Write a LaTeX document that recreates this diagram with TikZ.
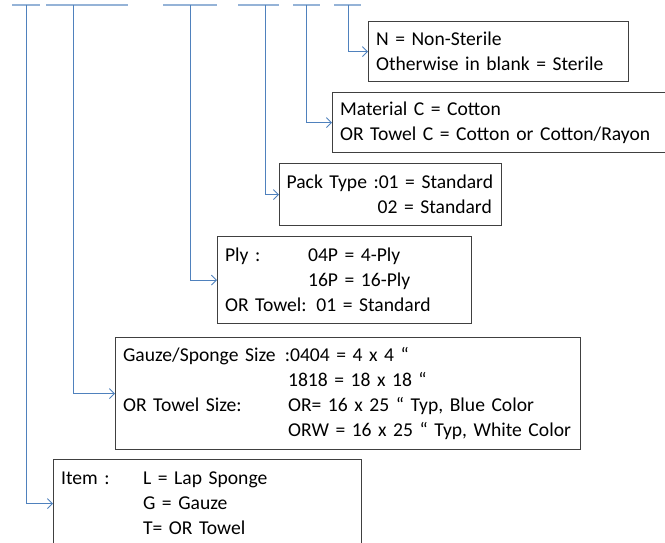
\documentclass[tikz,border=0pt]{standalone}
\usepackage{fontspec}
\setmainfont{Carlito}
\usetikzlibrary{arrows.meta}
\definecolor{leadblue}{HTML}{4F81BD}
\definecolor{barblue}{HTML}{95B3D7}
\definecolor{boxgray}{HTML}{404040}
\tikzset{
  code box/.style={
    rectangle,
    draw=boxgray,
    line width=1.2pt,
    anchor=north west,
    inner xsep=7.5pt,
    inner ysep=0pt,
    align=left,
    font=\fontsize{19.6}{25}\selectfont,
  },
  code bar/.style={draw=barblue, line width=1.6pt},
  code lead/.style={draw=leadblue, line width=0.9pt, -{Straight Barb[length=5pt,width=10pt]}},
}
\begin{document}
\begin{tikzpicture}[x=1pt,y=-1pt]
  \useasboundingbox (0,0) rectangle (665,543);
  \clip (0,0) rectangle (665,543);

  % segments of the code
  \coordinate (b1a) at (12,5);  \coordinate (b1b) at (40,5);  \coordinate (t1) at (26,5);
  \coordinate (b2a) at (46,5);  \coordinate (b2b) at (128,5); \coordinate (t2) at (73,5);
  \coordinate (b3a) at (163,5); \coordinate (b3b) at (217,5); \coordinate (t3) at (190,5);
  \coordinate (b4a) at (238,5); \coordinate (b4b) at (279,5); \coordinate (t4) at (265,5);
  \coordinate (b5a) at (293,5); \coordinate (b5b) at (320,5); \coordinate (t5) at (306,5);
  \coordinate (b6a) at (334,5); \coordinate (b6b) at (361,5); \coordinate (t6) at (348,5);

  \draw[code bar] (b1a) -- (b1b);
  \draw[code bar] (b2a) -- (b2b);
  \draw[code bar] (b3a) -- (b3b);
  \draw[code bar] (b4a) -- (b4b);
  \draw[code bar] (b5a) -- (b5b);
  \draw[code bar] (b6a) -- (b6b);

  % explanation boxes
  \node[code box, minimum width=260pt, minimum height=60pt, text width=245pt] (sterile) at (368,21)
    {N = Non-Sterile\\Otherwise in blank = Sterile};
  \node[code box, minimum width=345pt, minimum height=60pt, text width=330pt] (material) at (332,92)
    {Material C = Cotton\\OR Towel C = Cotton or Cotton/Rayon};
  \node[code box, minimum width=221pt, minimum height=62pt, text width=208pt, inner xsep=7pt] (pack) at (279,163)
    {Pack Type :01 = Standard\\\hspace*{91pt}02 = Standard};
  \node[code box, minimum width=254pt, minimum height=87pt, text width=239pt] (ply) at (217,236)
    {\makebox[83pt][l]{Ply :}04P = 4-Ply\\\hspace*{83pt}16P = 16-Ply\\OR Towel: 01 = Standard};
  \node[code box, minimum width=465pt, minimum height=112pt, text width=450pt] (size) at (115,337)
    {\makebox[167pt][l]{Gauze/Sponge Size\hfill:}0404 = 4 x 4 “\\
     \hspace*{165pt}1818 = 18 x 18 “\\
     \makebox[165pt][l]{OR Towel Size:}OR= 16 x 25 “ Typ, Blue Color\\
     \hspace*{165pt}ORW = 16 x 25 “ Typ, White Color};
  \node[code box, minimum width=308pt, minimum height=88pt, text width=293pt] (item) at (53,459)
    {\makebox[82pt][l]{Item :}L = Lap Sponge\\\hspace*{82pt}G = Gauze\\\hspace*{82pt}T= OR Towel};

  % leaders
  \draw[code lead] (t6) |- (sterile.west);
  \draw[code lead] (t5) |- (material.west);
  \draw[code lead] (t4) |- (pack.west);
  \draw[code lead] (t3) |- (ply.west);
  \draw[code lead] (t2) |- (size.west);
  \draw[code lead] (t1) |- (item.west);
\end{tikzpicture}
\end{document}
